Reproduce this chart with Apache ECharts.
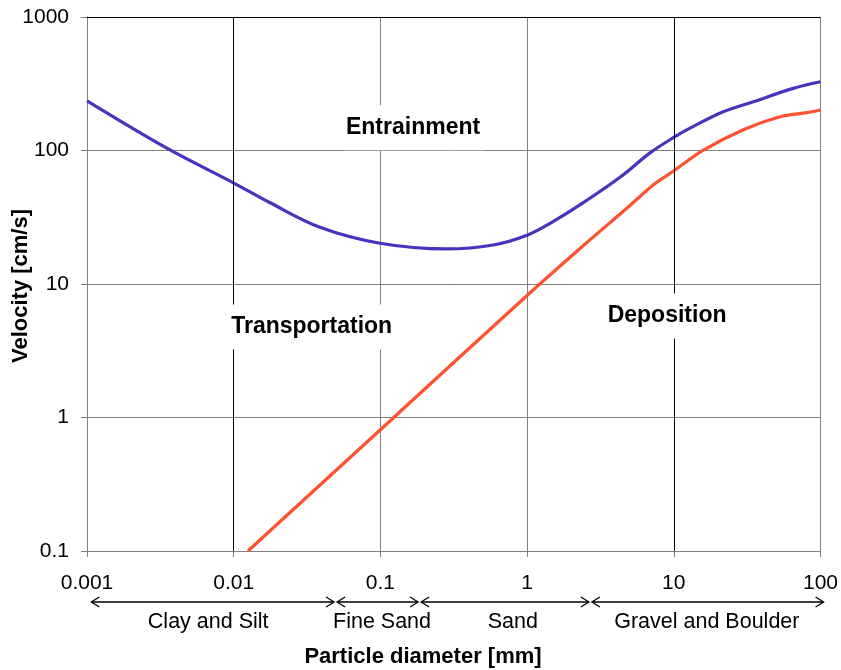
<!DOCTYPE html>
<html>
<head>
<meta charset="utf-8">
<script src="https://cdn.jsdelivr.net/npm/echarts@6/dist/echarts.min.js"></script>
<style>html,body{margin:0;padding:0;background:#fff;}#c{width:841px;height:670px;}</style>
</head>
<body>
<div id="c"></div>
<script>
// ---- data ----
var entrainmentD = [0.001, 0.0035, 0.0101, 0.0177, 0.0387, 0.0993, 0.283, 0.586, 1.01, 1.5, 2.29, 4.3, 6.89, 10.2, 12.9, 21.7, 34.8, 65.3, 100];
var entrainmentV = [235, 104, 56.8, 40.6, 26.6, 20.2, 18.3, 19.6, 23.3, 29.3, 39.1, 63, 96, 127, 147, 195, 232, 292, 327];
var depositionD = [0.0125, 0.1, 1, 2.5, 4.78, 7.24, 10.2, 15.5, 29.8, 53, 80.5, 100];
var depositionV = [0.1, 0.81, 8.2, 20, 36.9, 55.2, 71.4, 99, 143, 179, 192, 201];
var xTickLabels = ['0.001', '0.01', '0.1', '1', '10', '100'];
var yTickLabels = ['0.1', '1', '10', '100', '1000'];
var regionNames = ['Entrainment', 'Transportation', 'Deposition'];
var regionD = [0.167, 0.034, 9.0];
var regionV = [148, 4.77, 5.75];
var zoneNames = ['Clay and Silt', 'Fine Sand', 'Sand', 'Gravel and Boulder'];
var zoneBounds = [0.00107, 0.0495, 0.185, 2.7, 105];
var zoneLabelD = [0.0067, 0.1026, 0.80, 16.8];

var FONT = "'Liberation Sans', Arial, sans-serif";
function pairs(a, b) { return a.map(function (v, i) { return [v, b[i]]; }); }

var chart = echarts.init(document.getElementById('c'), null, { renderer: 'canvas' });
var option = {
  backgroundColor: '#fff',
  animation: false,
  grid: { left: 87, right: 18, top: 17, bottom: 119 },
  xAxis: {
    type: 'log', logBase: 10, min: 0.001, max: 100,
    axisLine: { show: true, lineStyle: { color: '#808080', width: 1 } },
    axisTick: { show: true, length: 6, lineStyle: { color: '#808080' } },
    splitLine: { show: true, lineStyle: { color: '#808080', width: 1 } },
    minorTick: { show: false },
    axisLabel: {
      margin: 22, fontSize: 21, color: '#000', fontFamily: FONT,
      formatter: function (v) { return xTickLabels[Math.round(Math.log10(v)) + 3]; }
    }
  },
  yAxis: {
    type: 'log', logBase: 10, min: 0.1, max: 1000,
    axisLine: { show: true, lineStyle: { color: '#808080', width: 1 } },
    axisTick: { show: true, length: 6, lineStyle: { color: '#808080' } },
    splitLine: { show: true, lineStyle: { color: '#808080', width: 1 } },
    axisLabel: {
      margin: 18, fontSize: 21, color: '#000', fontFamily: FONT,
      formatter: function (v) { return yTickLabels[Math.round(Math.log10(v)) + 1]; }
    }
  },
  series: [
    {
      type: 'line', data: [], z: 1, silent: true,
      markLine: {
        silent: true, symbol: 'none', label: { show: false },
        lineStyle: { color: '#000', width: 1, type: 'solid' },
        data: [{ xAxis: 0.01 }, { xAxis: 10 }, { yAxis: 1000 }]
      }
    },
    {
      name: 'Entrainment', type: 'line', data: pairs(entrainmentD, entrainmentV),
      showSymbol: false, smooth: 0.35, z: 3,
      lineStyle: { color: '#4633BE', width: 3.2 }
    },
    {
      name: 'Deposition', type: 'line', data: pairs(depositionD, depositionV),
      showSymbol: false, smooth: 0.3, z: 3,
      lineStyle: { color: '#FF5030', width: 3.2 }
    }
  ]
};
chart.setOption(option);

var graphics = [];
regionNames.forEach(function (n, i) {
  var p = chart.convertToPixel({ gridIndex: 0 }, [regionD[i], regionV[i]]);
  graphics.push({
    type: 'text', x: p[0], y: p[1], z: 10,
    style: {
      text: n, font: 'bold 23px ' + FONT, fill: '#000',
      align: 'center', verticalAlign: 'middle',
      backgroundColor: '#fff', padding: [11, 3]
    }
  });
});
var arrowY = 602;
zoneNames.forEach(function (n, i) {
  var x1 = chart.convertToPixel({ xAxisIndex: 0 }, zoneBounds[i]) + (i > 0 ? 1.5 : 0);
  var x2 = chart.convertToPixel({ xAxisIndex: 0 }, zoneBounds[i + 1]) - (i < zoneNames.length - 1 ? 1.5 : 0);
  var ls = { stroke: '#000', lineWidth: 1.3, fill: null };
  graphics.push({ type: 'line', shape: { x1: x1, y1: arrowY, x2: x2, y2: arrowY }, style: ls });
  graphics.push({ type: 'polyline', shape: { points: [[x1 + 8, arrowY - 5], [x1, arrowY], [x1 + 8, arrowY + 5]] }, style: ls });
  graphics.push({ type: 'polyline', shape: { points: [[x2 - 8, arrowY - 5], [x2, arrowY], [x2 - 8, arrowY + 5]] }, style: ls });
  var lx = chart.convertToPixel({ xAxisIndex: 0 }, zoneLabelD[i]);
  graphics.push({
    type: 'text', x: lx, y: 622,
    style: { text: n, font: '21.5px ' + FONT, fill: '#000', align: 'center', verticalAlign: 'middle' }
  });
});
graphics.push({
  type: 'text', x: 423, y: 657,
  style: { text: 'Particle diameter [mm]', font: 'bold 22px ' + FONT, fill: '#000', align: 'center', verticalAlign: 'middle' }
});
graphics.push({
  type: 'text', x: 21, y: 286, rotation: Math.PI / 2,
  style: { text: 'Velocity [cm/s]', font: 'bold 22px ' + FONT, fill: '#000', align: 'center', verticalAlign: 'middle' }
});
chart.setOption({ graphic: graphics });
</script>
</body>
</html>
